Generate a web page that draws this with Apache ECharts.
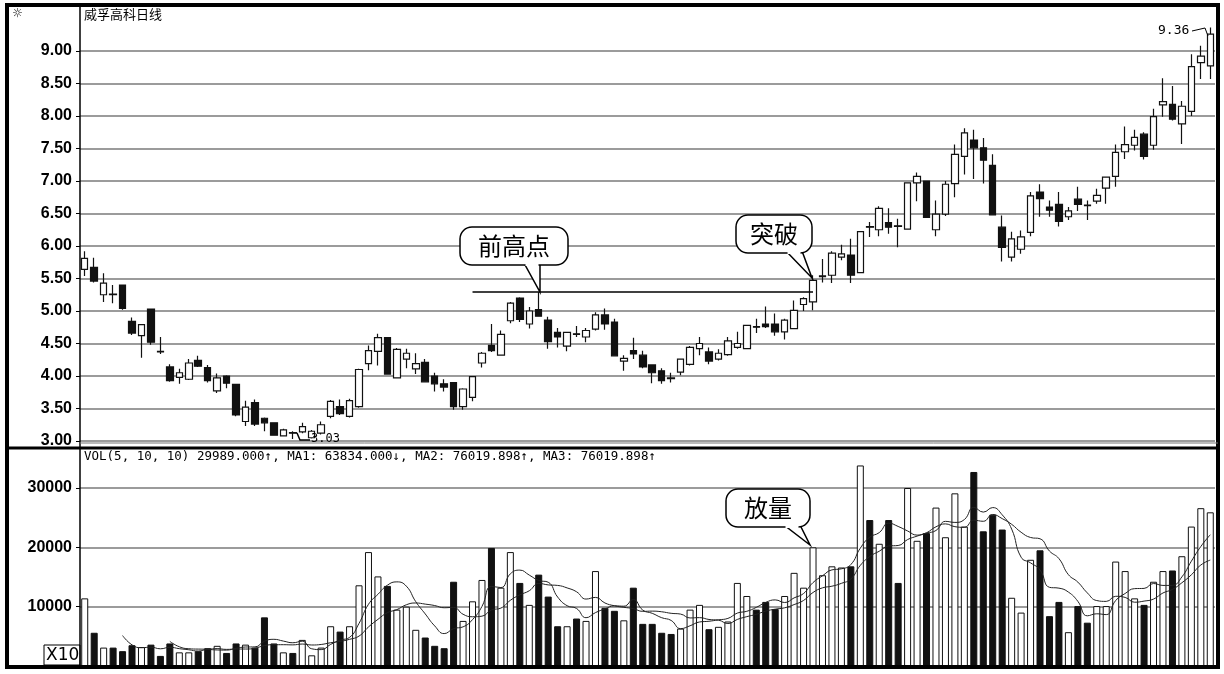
<!DOCTYPE html>
<html><head><meta charset="utf-8">
<script src="https://cdn.jsdelivr.net/npm/echarts@6/dist/echarts.min.js"></script>
<style>html,body{margin:0;padding:0;background:#fff}#c{width:1224px;height:674px}</style>
</head><body><div id="c"></div>
<script>
// candle values: [open, close, high, low]
const candles = [
[5.64,5.81,5.92,5.54],[5.67,5.46,5.82,5.44],[5.25,5.43,5.58,5.14],[5.26,5.25,5.40,5.12],[5.40,5.04,5.40,5.02],
[4.84,4.66,4.90,4.63],[4.62,4.79,4.80,4.28],[5.03,4.52,5.04,4.48],[4.38,4.37,4.60,4.34],[4.14,3.93,4.18,3.91],
[3.98,4.05,4.11,3.88],[3.95,4.20,4.26,3.94],[4.24,4.15,4.31,4.14],[4.13,3.93,4.17,3.90],[3.77,3.97,4.04,3.74],
[4.00,3.89,4.01,3.81],[3.87,3.40,3.87,3.38],[3.30,3.52,3.62,3.23],[3.59,3.26,3.64,3.23],[3.35,3.28,3.36,3.15],
[3.28,3.09,3.29,3.08],[3.08,3.17,3.19,3.07],[3.13,3.12,3.15,3.03],[3.14,3.22,3.28,3.12],[3.05,3.15,3.17,3.04],
[3.12,3.25,3.30,3.10],[3.38,3.61,3.63,3.35],[3.53,3.42,3.64,3.40],[3.38,3.62,3.65,3.36],[3.53,4.10,4.11,3.51],
[4.19,4.39,4.47,4.09],[4.38,4.59,4.65,4.16],[4.59,4.03,4.59,4.03],[3.97,4.41,4.43,3.96],[4.26,4.35,4.42,4.12],
[4.11,4.19,4.35,4.03],[4.21,3.91,4.26,3.90],[4.00,3.88,4.05,3.76],[3.88,3.83,3.95,3.76],[3.90,3.53,3.90,3.48],
[3.53,3.80,3.81,3.48],[3.67,3.99,4.00,3.61],[4.20,4.35,4.37,4.13],[4.47,4.39,4.80,4.37],[4.32,4.64,4.70,4.32],
[4.85,5.12,5.14,4.81],[5.20,4.87,5.21,4.83],[4.80,5.00,5.06,4.73],[5.02,4.92,5.29,4.91],[4.86,4.53,4.91,4.42],
[4.67,4.60,4.74,4.44],[4.46,4.67,4.67,4.38],[4.65,4.64,4.77,4.60],[4.60,4.70,4.74,4.52],[4.72,4.94,4.98,4.70],
[4.94,4.80,5.04,4.71],[4.83,4.31,4.88,4.31],[4.23,4.27,4.32,4.08],[4.39,4.34,4.59,4.26],[4.32,4.14,4.39,4.12],
[4.17,4.05,4.17,3.89],[4.08,3.93,4.12,3.88],[3.97,3.96,4.05,3.90],[4.06,4.26,4.26,4.01],[4.18,4.44,4.46,4.16],
[4.42,4.50,4.60,4.32],[4.37,4.23,4.44,4.18],[4.26,4.35,4.41,4.24],[4.33,4.54,4.60,4.31],[4.44,4.50,4.68,4.42],
[4.42,4.78,4.79,4.42],[4.76,4.75,4.88,4.66],[4.80,4.76,5.07,4.74],[4.80,4.68,4.96,4.62],[4.68,4.86,4.88,4.56],
[4.73,5.01,5.16,4.73],[5.10,5.19,5.21,5.00],[5.14,5.47,5.55,5.01],[5.53,5.54,5.80,5.44],[5.55,5.89,5.92,5.43],
[5.83,5.88,6.02,5.78],[5.86,5.55,6.11,5.43],[5.59,6.22,6.22,5.59],[6.30,6.29,6.37,6.14],[6.25,6.58,6.61,6.15],
[6.36,6.29,6.58,6.19],[6.31,6.30,6.42,5.98],[6.26,6.97,6.98,6.25],[6.97,7.07,7.13,6.69],[7.00,6.44,7.00,6.44],
[6.25,6.49,6.70,6.15],[6.49,6.95,7.00,6.46],[6.96,7.41,7.56,6.75],[7.38,7.74,7.81,7.10],[7.63,7.51,7.79,7.03],
[7.51,7.32,7.66,6.96],[7.24,6.48,7.41,6.48],[6.29,5.98,6.47,5.76],[5.83,6.11,6.22,5.76],[5.95,6.14,6.24,5.88],
[6.21,6.77,6.83,6.15],[6.83,6.73,6.95,6.45],[6.60,6.55,6.70,6.45],[6.64,6.38,6.83,6.30],[6.45,6.54,6.60,6.40],
[6.72,6.64,6.91,6.54],[6.63,6.62,6.70,6.40],[6.69,6.78,6.88,6.65],[6.89,7.06,7.07,6.65],[7.07,7.44,7.56,6.91],
[7.45,7.56,7.84,7.34],[7.55,7.67,7.79,7.47],[7.72,7.38,7.75,7.33],[7.55,7.99,8.11,7.48],[8.17,8.22,8.58,7.99],
[8.18,7.95,8.46,7.93],[7.88,8.15,8.23,7.57],[8.07,8.76,8.95,8.00],[8.82,8.92,9.08,8.57],[8.77,9.26,9.36,8.57]
];
const volumes = [
11400,5600,3100,3100,2500,3500,3200,3600,1700,3800,2300,2300,2500,3000,3400,2200,3800,3600,3100,8200,
3800,2300,2200,4400,1800,3100,6700,5800,6700,13600,19200,15100,13500,9500,10000,6100,4800,3400,3000,14200,
7600,10900,14500,19900,13200,19200,14000,10300,15400,11700,6700,6700,8000,7600,16000,9800,9300,7700,13200,7100,
7100,5600,5400,6300,9500,10300,6200,6600,7500,14000,11800,9500,10800,9600,11800,15700,13200,20000,15300,16800,
16600,16800,33800,24600,20600,24600,14000,30000,21100,22400,26700,21700,29100,23500,32700,22700,25500,23000,11500,9000,
17900,19500,8400,10800,5700,10100,7300,10100,10100,17600,16000,11400,10300,14200,16000,16100,18500,23500,26600,25900
];
const categories = candles.map((_, i) => 'D' + (i + 1));
const priceTicks = [3, 9, 0.5];
const volTicks = [0, 30000, 10000];
const breakoutLevel = 5.29;

function ma(n){return volumes.map((v,i)=>{if(i<n-1)return '-';let s=0;for(let k=i-n+1;k<=i;k++)s+=volumes[k];return +(s/n).toFixed(0);});}
const kData = candles.map(c=>[c[0],c[1],c[3],c[2]]);
const volData = volumes.map((v,i)=>{const up=candles[i][1]>=candles[i][0];
  return {value:v,itemStyle:{color:up?'#fff':'#111',borderColor:'#111',borderWidth:1}};});

const chart = echarts.init(document.getElementById('c'));
const lab = {color:'#000',fontWeight:'bold',fontSize:16,fontFamily:'Liberation Sans',margin:8};
const split = {show:true,lineStyle:{color:'#7a7a7a',width:1.5}};
function bubble(x,y,w,h,text,tx,ty,bx){
  return [
    {type:'polygon',shape:{points:[[bx,y+h-2],[bx+16,y+h-2],[tx,ty]]},style:{fill:'#fff',stroke:'#000',lineWidth:1.5},z:10},
    {type:'rect',shape:{x:x,y:y,width:w,height:h,r:12},style:{fill:'#fff',stroke:'#000',lineWidth:1.5},z:11},
    {type:'rect',shape:{x:bx+1.5,y:y+h-3,width:13,height:4},style:{fill:'#fff'},z:12},
    {type:'text',x:x+w/2,y:y+h/2,style:{text:text,fill:'#000',font:'24px "Noto Sans CJK SC"',align:'center',verticalAlign:'middle'},z:13}
  ];
}
chart.setOption({
  animation:false,
  grid:[{left:80,width:1135,top:51,height:390},{left:80,width:1135,top:488,height:178}],
  xAxis:[
    {type:'category',data:categories,gridIndex:0,boundaryGap:true,axisLine:{show:false},axisTick:{show:false},axisLabel:{show:false}},
    {type:'category',data:categories,gridIndex:1,boundaryGap:true,axisLine:{show:false},axisTick:{show:false},axisLabel:{show:false}}
  ],
  yAxis:[
    {gridIndex:0,min:priceTicks[0],max:priceTicks[1],interval:priceTicks[2],axisLine:{show:false},axisTick:{show:true,length:4,lineStyle:{color:'#000'}},
     axisLabel:Object.assign({formatter:v=>v.toFixed(2)},lab),splitLine:split},
    {gridIndex:1,min:volTicks[0],max:volTicks[1],interval:volTicks[2],axisLine:{show:false},axisTick:{show:true,length:4,lineStyle:{color:'#000'}},
     axisLabel:Object.assign({formatter:v=>v===0?'':String(v)},lab),splitLine:split}
  ],
  series:[
    {type:'candlestick',xAxisIndex:0,yAxisIndex:0,data:kData,barWidth:7,clip:false,
     itemStyle:{color:'#fff',color0:'#111',borderColor:'#111',borderColor0:'#111',borderWidth:1.2},
     markLine:{symbol:'none',silent:true,label:{show:false},lineStyle:{color:'#000',width:1.5,type:'solid'},
       data:[[{coord:['D42',breakoutLevel]},{coord:['D78',breakoutLevel]}]]}},
    {type:'bar',xAxisIndex:1,yAxisIndex:1,data:volData,barWidth:7,clip:false},
    {type:'line',xAxisIndex:1,yAxisIndex:1,data:ma(5),showSymbol:false,smooth:true,lineStyle:{color:'#222',width:1}},
    {type:'line',xAxisIndex:1,yAxisIndex:1,data:ma(10),showSymbol:false,smooth:true,lineStyle:{color:'#222',width:1}}
  ],
  graphic:[
    {type:'rect',shape:{x:7,y:5,width:1211,height:662},style:{fill:'none',stroke:'#000',lineWidth:4},z:20},
    {type:'line',shape:{x1:80,y1:5,x2:80,y2:667},style:{stroke:'#000',lineWidth:1.5},z:20},
    {type:'line',shape:{x1:7,y1:448,x2:1218,y2:448},style:{stroke:'#000',lineWidth:3},z:20},
    {type:'line',shape:{x1:80,y1:443,x2:1218,y2:443},style:{stroke:'#777',lineWidth:1},z:20},
    {type:'text',x:12,y:8,style:{text:'☼',fill:'#000',font:'bold 12px "DejaVu Sans"'},z:20},
    {type:'text',x:84,y:8,style:{text:'威孚高科日线',fill:'#000',font:'13px "Noto Sans CJK SC"'},z:20},
    {type:'text',x:84,y:450,style:{text:'VOL(5, 10, 10) 29989.000↑, MA1: 63834.000↓, MA2: 76019.898↑, MA3: 76019.898↑',fill:'#000',font:'12.5px "DejaVu Sans Mono"'},z:20},
    {type:'text',x:1158,y:24,style:{text:'9.36',fill:'#000',font:'13px "DejaVu Sans Mono"'},z:20},
    {type:'polyline',shape:{points:[[1192,31],[1205,28],[1208,36]]},style:{stroke:'#000',lineWidth:1,fill:'none'},z:20},
    {type:'text',x:311,y:433,style:{text:'3.03',fill:'#000',font:'12px "DejaVu Sans Mono"'},z:20},
    {type:'polyline',shape:{points:[[297,433],[300,440],[310,440]]},style:{stroke:'#000',lineWidth:1.5,fill:'none'},z:20},
    {type:'rect',shape:{x:44,y:645,width:36,height:20},style:{fill:'#fff',stroke:'#000',lineWidth:1},z:19},
    {type:'text',x:46,y:647,style:{text:'X10',fill:'#000',font:'17px "DejaVu Sans"'},z:20}
  ].concat(bubble(460,227,108,38,'前高点',540,292,524))
   .concat(bubble(736,215,76,38,'突破',812,278,786))
   .concat(bubble(726,489,84,38,'放量',810,545,784))
});
</script></body></html>
